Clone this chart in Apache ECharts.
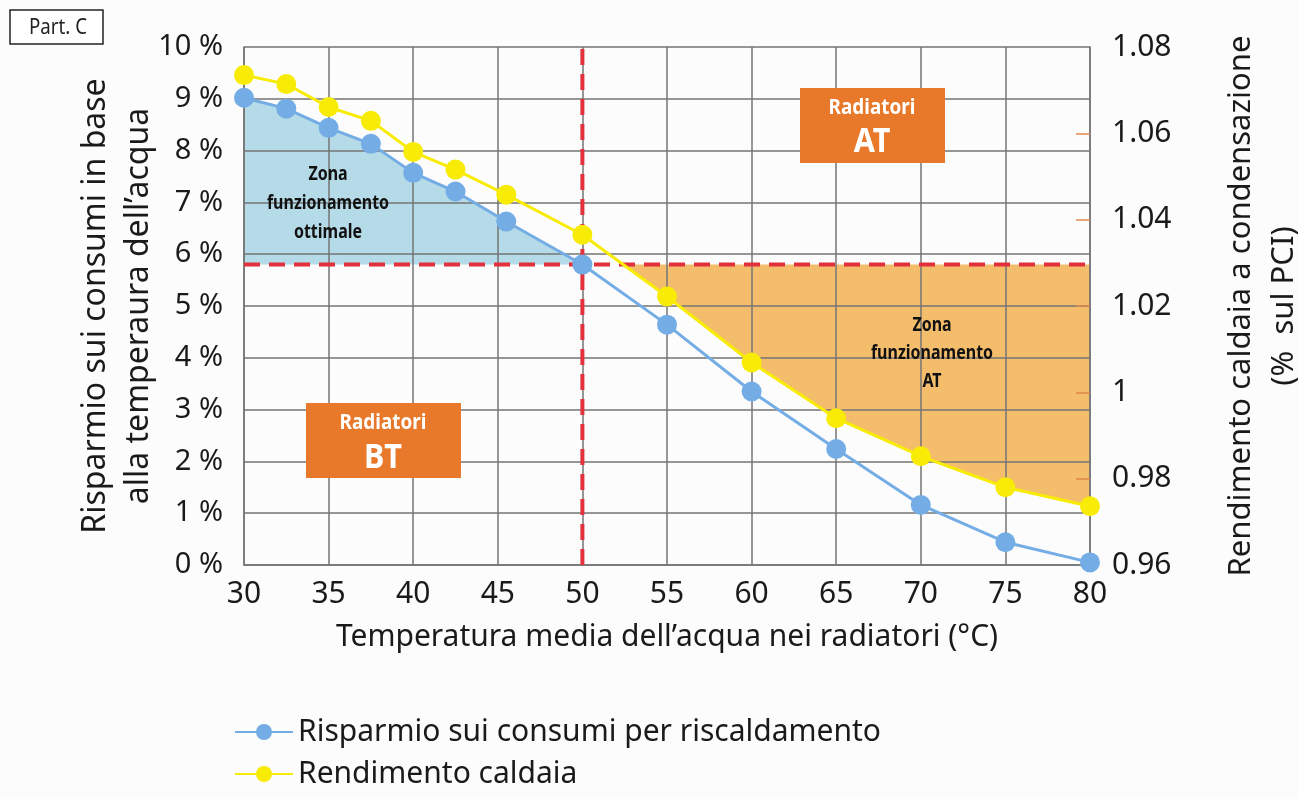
<!DOCTYPE html>
<html><head><meta charset="utf-8">
<script src="https://cdn.jsdelivr.net/npm/echarts@6/dist/echarts.min.js"></script>
<style>html,body{margin:0;padding:0;background:#fcfcfc}#c{width:1299px;height:799px}</style>
</head><body><div id="c"></div>
<script>
// ---- data ----
const temperature = [30, 32.5, 35, 37.5, 40, 42.5, 45.5, 50, 55, 60, 65, 70, 75, 80];
const risparmio = [9.02, 8.81, 8.44, 8.13, 7.57, 7.21, 6.63, 5.80, 4.64, 3.35, 2.24, 1.16, 0.44, 0.05];
const rendimento = [1.0735, 1.0714, 1.0661, 1.0629, 1.0557, 1.0516, 1.0458, 1.0365, 1.0222, 1.0069, 0.9940, 0.9852, 0.9780, 0.9736];
const xScale = { min: 30, max: 80, interval: 5 };
const leftScale = { min: 0, max: 10, interval: 1 };
const rightScale = { min: 0.96, max: 1.08, interval: 0.02 };
const rightInnerTicks = [0.98, 1.00, 1.02, 1.04, 1.06];
const sogliaRisparmio = 5.8;   // % (horizontal red dashed line)
const tempSoglia = 50;         // °C (vertical red dashed line)
const serieNames = ['Risparmio sui consumi per riscaldamento', 'Rendimento caldaia'];

const FONT = '"Noto Sans", "Open Sans", sans-serif';
const BLUE = '#74ade5', YELLOW = '#f8ec06', RED = '#e2303c';

// threshold expressed on right axis
const sogliaDestra = rightScale.min + (sogliaRisparmio - leftScale.min) / (leftScale.max - leftScale.min) * (rightScale.max - rightScale.min);

// blue zone polygon (left axis): blue curve from 30 to tempSoglia, closed on threshold
const bluePoly = [];
temperature.forEach((t, i) => { if (t <= tempSoglia) bluePoly.push([t, risparmio[i]]); });
bluePoly.push([tempSoglia, sogliaRisparmio], [temperature[0], sogliaRisparmio]);

// orange zone polygon (right axis): yellow curve below threshold, closed on threshold
const orangePoly = [];
for (let i = 0; i < temperature.length; i++) {
  const v = rendimento[i];
  if (i > 0 && rendimento[i - 1] > sogliaDestra && v <= sogliaDestra) {
    const f = (rendimento[i - 1] - sogliaDestra) / (rendimento[i - 1] - v);
    orangePoly.push([temperature[i - 1] + f * (temperature[i] - temperature[i - 1]), sogliaDestra]);
  }
  if (v <= sogliaDestra) orangePoly.push([temperature[i], v]);
}
orangePoly.push([temperature[temperature.length - 1], sogliaDestra]);

function polySeries(yAxisIndex, pts, color) {
  return {
    type: 'custom', yAxisIndex, z: -1, silent: true, data: [0],
    renderItem: (params, api) => ({
      type: 'polygon',
      shape: { points: pts.map(p => api.coord(p)) },
      style: { fill: color }
    })
  };
}

function narrowText(x, y, text, size, color, lineHeight, sx) {
  return {
    type: 'text', z: 11, x, y, scaleX: sx || 0.82,
    style: { text, fontSize: size, lineHeight: lineHeight || size * 1.2, fontWeight: 'bold', fontFamily: FONT, fill: color, align: 'center', verticalAlign: 'middle' }
  };
}

const chart = echarts.init(document.getElementById('c'), null, { renderer: 'canvas' });
const gridColor = '#747474';
chart.setOption({
  backgroundColor: '#fcfcfc',
  animation: false,
  grid: { left: 244, right: 209, top: 47, bottom: 234, outerBoundsMode: 'none', containLabel: false },
  xAxis: {
    type: 'value', min: xScale.min, max: xScale.max, interval: xScale.interval,
    name: 'Temperatura media dell\u2019acqua nei radiatori (°C)',
    nameLocation: 'middle', nameGap: 57,
    nameTextStyle: { fontSize: 30, fontFamily: FONT, color: '#1a1a1a' },
    axisLine: { lineStyle: { color: gridColor, width: 1.5 } },
    axisTick: { show: false },
    axisLabel: { fontSize: 30, fontFamily: FONT, color: '#1a1a1a', margin: 14 },
    splitLine: { lineStyle: { color: gridColor, width: 1.5 } }
  },
  yAxis: [{
    type: 'value', min: leftScale.min, max: leftScale.max, interval: leftScale.interval,
    name: 'Risparmio sui consumi in base\nalla temperaura dell\u2019acqua',
    nameLocation: 'middle', nameGap: 84, nameRotate: 90, nameMoveOverlap: false,
    nameTextStyle: { fontSize: 32, fontFamily: FONT, color: '#1a1a1a', lineHeight: 43 },
    axisLine: { show: true, lineStyle: { color: gridColor, width: 1.5 } },
    axisTick: { show: false },
    axisLabel: { fontSize: 29, fontFamily: FONT, color: '#1a1a1a', margin: 21, formatter: '{value} %' },
    splitLine: { lineStyle: { color: gridColor, width: 1.5 } }
  }, {
    type: 'value', min: rightScale.min, max: rightScale.max, interval: rightScale.interval,
    position: 'right',
    name: 'Rendimento caldaia a condensazione\n(%  sul PCI)',
    nameLocation: 'middle', nameGap: 130, nameRotate: 90,
    nameTextStyle: { fontSize: 31, fontFamily: FONT, color: '#1a1a1a', lineHeight: 43 },
    axisLine: { show: true, lineStyle: { color: gridColor, width: 1.5 } },
    axisTick: { show: true, inside: true, length: 14, customValues: rightInnerTicks, lineStyle: { color: '#e0884c', width: 1.5 } },
    axisLabel: { fontSize: 30, fontFamily: FONT, color: '#1a1a1a', margin: 22 },
    splitLine: { show: false }
  }],
  legend: {
    data: serieNames, orient: 'vertical', left: 229, top: 710,
    itemWidth: 58, itemHeight: 20, itemGap: 8,
    textStyle: { fontSize: 30, lineHeight: 34, fontFamily: FONT, color: '#1a1a1a' }
  },
  series: [
    polySeries(0, bluePoly, '#b5dae8'),
    polySeries(1, orangePoly, '#f3bd6b'),
    {
      type: 'line', silent: true, symbol: 'none', z: 3, yAxisIndex: 0,
      data: [[xScale.min, sogliaRisparmio], [xScale.max, sogliaRisparmio]],
      lineStyle: { color: RED, width: 4, type: [16, 9] }
    },
    {
      type: 'line', silent: true, symbol: 'none', z: 3, yAxisIndex: 0,
      data: [[tempSoglia, leftScale.min], [tempSoglia, leftScale.max]],
      lineStyle: { color: RED, width: 4, type: [16, 9] }
    },
    {
      name: serieNames[0], type: 'line', yAxisIndex: 0, z: 5,
      data: temperature.map((t, i) => [t, risparmio[i]]),
      symbol: 'circle', symbolSize: 20,
      itemStyle: { color: BLUE }, lineStyle: { color: BLUE, width: 3 }
    },
    {
      name: serieNames[1], type: 'line', yAxisIndex: 1, z: 6,
      data: temperature.map((t, i) => [t, rendimento[i]]),
      symbol: 'circle', symbolSize: 20,
      itemStyle: { color: YELLOW }, lineStyle: { color: YELLOW, width: 3 }
    }
  ],
  graphic: [
    { type: 'rect', shape: { x: 10, y: 10, width: 93, height: 34 }, style: { fill: '#ffffff', stroke: '#222', lineWidth: 1.5 } },
    { type: 'text', x: 58, y: 28, scaleX: 0.85, style: { text: 'Part. C', fontSize: 22, fontFamily: FONT, fill: '#222', align: 'center', verticalAlign: 'middle' } },
    { type: 'rect', z: 10, shape: { x: 800, y: 88, width: 145, height: 75 }, style: { fill: '#e8792b' } },
    narrowText(872, 108, 'Radiatori', 21, '#fff', 24, 0.9),
    narrowText(872, 142, 'AT', 34, '#fff', 40, 0.9),
    { type: 'rect', z: 10, shape: { x: 306, y: 403, width: 155, height: 75 }, style: { fill: '#e8792b' } },
    narrowText(383, 423, 'Radiatori', 21, '#fff', 24, 0.9),
    narrowText(383, 458, 'BT', 34, '#fff', 40, 0.9),
    narrowText(328, 203, 'Zona\nfunzionamento\nottimale', 20, '#111', 29, 0.8),
    narrowText(932, 353, 'Zona\nfunzionamento\nAT', 20, '#111', 28, 0.8)
  ]
});
</script>
</body></html>
